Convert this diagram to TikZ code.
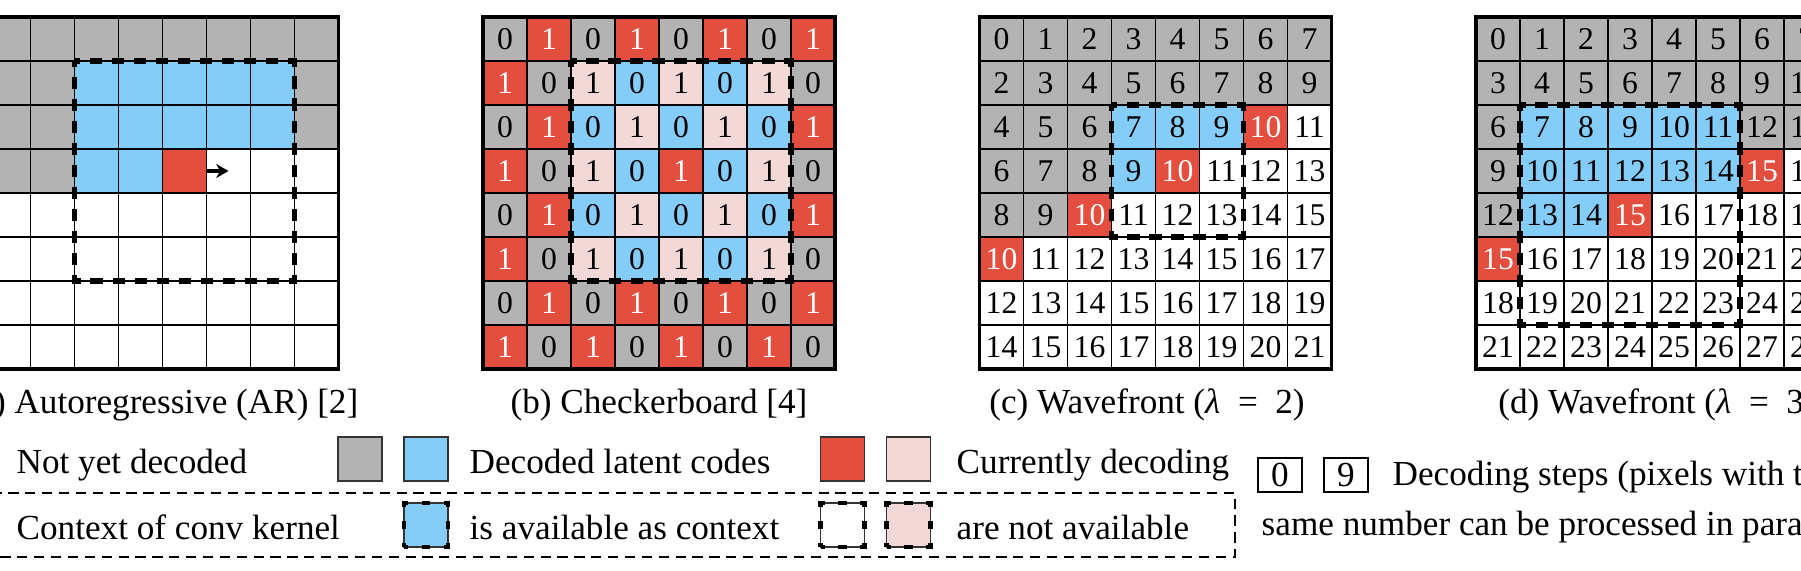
\documentclass[tikz,border=0pt]{standalone}
\usepackage{fontspec}
\setmainfont{Liberation Serif}
\usetikzlibrary{arrows.meta}
\definecolor{cgray}{RGB}{179,179,179}
\definecolor{cblue}{RGB}{133,205,249}
\definecolor{cred}{RGB}{227,78,62}
\definecolor{cpink}{RGB}{242,216,214}
\tikzset{
  thinline/.style={line width=0.45pt, draw=black},
  border/.style={line width=1pt, draw=black},
  kernel/.style={line width=1.45pt, dash pattern=on 3.5pt off 2.7596pt, dash phase=1.75pt},
  celltxt/.style={font=\fontsize{9}{10}\selectfont, inner sep=0pt, anchor=center},
  captxt/.style={font=\fontsize{10}{12}\selectfont, anchor=base, inner sep=0pt},
  legtxt/.style={font=\fontsize{10}{12}\selectfont, anchor=base west, inner sep=0pt},
  legsq/.style={draw=black!80, line width=0.5pt, minimum width=0.44cm, minimum height=0.44cm, inner sep=0pt, outer sep=0pt},
  legkern/.style={line width=1.2pt, dash pattern=on 2.3pt off 3.9596pt, dash phase=1.15pt},
  legframe/.style={line width=0.4pt, dash pattern=on 2.9pt off 1.9pt},
  stepbox/.style={draw, line width=0.5pt, minimum width=0.44cm, minimum height=0.34cm, inner sep=0pt, font=\fontsize{10}{12}\selectfont},
  arrowstyle/.style={line width=0.9pt, -{Stealth[length=3.5pt,width=4pt]}},
}
\newcommand{\lameq}[1]{(\textit{λ}\hspace{0.5em}=\hspace{0.5em}#1)}
\begin{document}
\begin{tikzpicture}[x=0.01cm,y=-0.01cm]
\useasboundingbox (0,0) rectangle (1801,570);
\clip (0,0) rectangle (1801,570);

% ---------------- panel (a)
\begin{scope}[shift={(-13.5,17)}]
\foreach \ri in {0,...,7}{\foreach \ci in {0,...,7}{
  \pgfmathtruncatemacro{\idx}{8*\ri+\ci}
  \pgfmathtruncatemacro{\inb}{(\ri>=1)*(\ri<=5)*(\ci>=2)*(\ci<=6)}
  \ifnum\idx<28
    \ifnum\inb=1 \def\cellcol{cblue}\else\def\cellcol{cgray}\fi
  \else
    \ifnum\idx=28 \def\cellcol{cred}\else\def\cellcol{white}\fi
  \fi
  \fill[\cellcol] (44*\ci,44*\ri) rectangle ++(44,44);
}}
\foreach \i in {1,...,7}{\draw[thinline] (44*\i,0) -- (44*\i,352); \draw[thinline] (0,44*\i) -- (352,44*\i);}
\draw[border] (0,0) rectangle (352,352);
\draw[kernel] (88,44) rectangle (308,264);
\coordinate (arrS) at (220,154);
\coordinate (arrE) at (242,154);
\draw[arrowstyle] (arrS) -- (arrE);
\end{scope}
\node[captxt] (capa) at (162.5,413) {(a) Autoregressive (AR) [2]};

% ---------------- panel (b)
\begin{scope}[shift={(483,17)}]
\foreach \ri in {0,...,7}{\foreach \ci in {0,...,7}{
  \pgfmathtruncatemacro{\val}{mod(\ri+\ci,2)}
  \pgfmathtruncatemacro{\inb}{(\ri>=1)*(\ri<=5)*(\ci>=2)*(\ci<=6)}
  \pgfmathtruncatemacro{\ctr}{(\ri==3)*(\ci==4)}
  \def\tcol{black}
  \ifnum\ctr=1 \def\cellcol{cred}\def\tcol{white}\else
    \ifnum\inb=1
      \ifnum\val=0 \def\cellcol{cblue}\else\def\cellcol{cpink}\fi
    \else
      \ifnum\val=0 \def\cellcol{cgray}\else\def\cellcol{cred}\def\tcol{white}\fi
    \fi
  \fi
  \fill[\cellcol] (44*\ci,44*\ri) rectangle ++(44,44);
  \node[celltxt, text=\tcol] (b-\ri-\ci) at (44*\ci+22,44*\ri+22) {\val};
}}
\foreach \i in {1,...,7}{\draw[thinline] (44*\i,0) -- (44*\i,352); \draw[thinline] (0,44*\i) -- (352,44*\i);}
\draw[border] (0,0) rectangle (352,352);
\draw[kernel] (88,44) rectangle (308,264);
\end{scope}
\node[captxt] (capb) at (659,413) {(b) Checkerboard [4]};

% ---------------- panel (c)
\begin{scope}[shift={(979.5,17)}]
\foreach \ri in {0,...,7}{\foreach \ci in {0,...,7}{
  \pgfmathtruncatemacro{\val}{2*\ri+\ci}
  \pgfmathtruncatemacro{\inb}{(\ri>=2)*(\ri<=4)*(\ci>=3)*(\ci<=5)}
  \def\tcol{black}
  \ifnum\val<10
    \ifnum\inb=1 \def\cellcol{cblue}\else\def\cellcol{cgray}\fi
  \else
    \ifnum\val=10 \def\cellcol{cred}\def\tcol{white}\else\def\cellcol{white}\fi
  \fi
  \fill[\cellcol] (44*\ci,44*\ri) rectangle ++(44,44);
  \node[celltxt, text=\tcol] (c-\ri-\ci) at (44*\ci+22,44*\ri+22) {\val};
}}
\foreach \i in {1,...,7}{\draw[thinline] (44*\i,0) -- (44*\i,352); \draw[thinline] (0,44*\i) -- (352,44*\i);}
\draw[border] (0,0) rectangle (352,352);
\draw[kernel] (132,88) rectangle (264,220);
\end{scope}
\node[captxt] (capc) at (1147,413) {(c) Wavefront \lameq{2}};

% ---------------- panel (d)
\begin{scope}[shift={(1476,17)}]
\foreach \ri in {0,...,7}{\foreach \ci in {0,...,7}{
  \pgfmathtruncatemacro{\val}{3*\ri+\ci}
  \pgfmathtruncatemacro{\inb}{(\ri>=2)*(\ri<=6)*(\ci>=1)*(\ci<=5)}
  \def\tcol{black}
  \ifnum\val<15
    \ifnum\inb=1 \def\cellcol{cblue}\else\def\cellcol{cgray}\fi
  \else
    \ifnum\val=15 \def\cellcol{cred}\def\tcol{white}\else\def\cellcol{white}\fi
  \fi
  \fill[\cellcol] (44*\ci,44*\ri) rectangle ++(44,44);
  \node[celltxt, text=\tcol] (d-\ri-\ci) at (44*\ci+22,44*\ri+22) {\val};
}}
\foreach \i in {1,...,7}{\draw[thinline] (44*\i,0) -- (44*\i,352); \draw[thinline] (0,44*\i) -- (352,44*\i);}
\draw[border] (0,0) rectangle (352,352);
\draw[kernel] (44,88) rectangle (264,308);
\end{scope}
\node[captxt] (capd) at (1657,413) {(d) Wavefront \lameq{3}};

% ---------------- legend
\node[legtxt] (lnot) at (16,473) {Not yet decoded};
\node[legsq, fill=cgray] (lgray) at (360,459) {};
\node[legsq, fill=cblue] (lblue) at (426,459) {};
\node[legtxt] (ldec) at (469,473) {Decoded latent codes};
\node[legsq, fill=cred] (lred) at (842.5,459) {};
\node[legsq, fill=cpink] (lpink) at (908.5,459) {};
\node[legtxt] (lcur) at (956,473) {Currently decoding};

\coordinate (fA) at (-20,493);
\coordinate (fB) at (1235,557);
\draw[legframe] (fA) rectangle (fB);

\node[legtxt] (lctx) at (16,539) {Context of conv kernel};
\node[legsq, fill=cblue] (lkb) at (426,525) {};
\draw[legkern] (lkb.south west) rectangle (lkb.north east);
\node[legtxt] (lavail) at (469,539) {is available as context};
\node[legsq, fill=white] (lkw) at (842.5,525) {};
\draw[legkern] (lkw.south west) rectangle (lkw.north east);
\node[legsq, fill=cpink] (lkp) at (908.5,525) {};
\draw[legkern] (lkp.south west) rectangle (lkp.north east);
\node[legtxt] (lnav) at (956,539) {are not available};

\node[stepbox] (s0) at (1280,475) {0};
\node[stepbox] (s9) at (1346,475) {9};
\node[legtxt] (lstep1) at (1392,485) {Decoding steps (pixels with the};
\node[legtxt] (lstep2) at (1261,535) {same number can be processed in parallel)};
\end{tikzpicture}
\end{document}
